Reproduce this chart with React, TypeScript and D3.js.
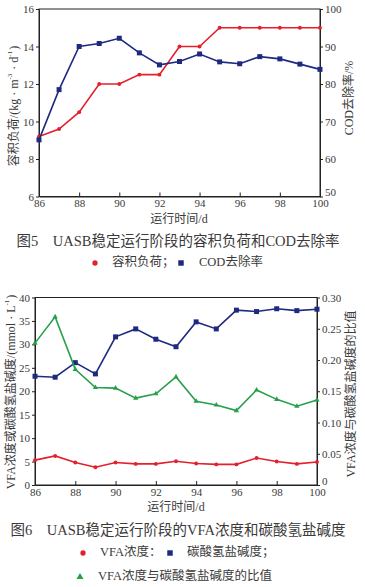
import * as React from 'react';
import * as d3 from 'd3';

const W = 365;
const H = 587;

const days = [86, 87, 88, 89, 90, 91, 92, 93, 94, 95, 96, 97, 98, 99, 100];
const xTicks = [86, 88, 90, 92, 94, 96, 98, 100];

// fig 5
const loadRate = [9.2, 9.6, 10.5, 12.0, 12.0, 12.5, 12.5, 14.0, 14.0, 15.0, 15.0, 15.0, 15.0, 15.0, 15.0];
const codRemoval = [65.1, 78.5, 90.0, 90.8, 92.2, 88.3, 85.1, 86.0, 88.0, 85.9, 85.4, 87.3, 86.7, 85.3, 83.9];
const loadTicks = [6, 8, 10, 12, 14, 16];
const codTicks = [50, 60, 70, 80, 90, 100];

// fig 6
const vfa = [5.3, 6.2, 4.8, 3.8, 4.8, 4.5, 4.5, 5.05, 4.6, 4.4, 4.4, 5.75, 5.0, 4.5, 4.9];
const alkalinity = [23.2, 23.0, 26.1, 23.7, 31.6, 33.3, 31.1, 29.5, 34.8, 33.3, 37.3, 37.0, 37.6, 37.2, 37.5];
const ratio = [0.227, 0.269, 0.185, 0.156, 0.155, 0.139, 0.146, 0.173, 0.134, 0.128, 0.119, 0.152, 0.137, 0.126, 0.136];
const concTicks = [0, 5, 10, 15, 20, 25, 30, 35, 40];
const ratioTicks = [0, 0.05, 0.1, 0.15, 0.2, 0.25, 0.3];

const RED = '#e3202c';
const BLUE = '#1e2a80';
const GREEN = '#26a04a';
const TXT = '#3a3a3a';
const NUM_FONT = '"Liberation Serif", "DejaVu Serif", serif';
const CJK_FONT = '"Liberation Serif", "Noto Sans CJK SC", serif';

type Series = { values: number[]; color: string; marker: 'circle' | 'square' | 'triangle'; axis: 'left' | 'right' };

function drawChart(svg, opts) {
  const { left, right, top, bottom, yL, yR, ticksL, ticksR, fmtR, series } = opts;
  const x = d3.scaleLinear().domain([86, 100]).range([left, right]);
  const yl = d3.scaleLinear().domain(yL).range([bottom, top]);
  const yr = d3.scaleLinear().domain(yR).range([bottom, top]);
  const g = svg.append('g');

  g.append('rect')
    .attr('x', left).attr('y', top)
    .attr('width', right - left).attr('height', bottom - top)
    .attr('fill', 'none').attr('stroke', '#222').attr('stroke-width', 1);

  // bottom ticks point inward
  const xa = g.append('g').attr('transform', `translate(0,${bottom})`)
    .call(d3.axisBottom(x).tickValues(xTicks).tickSizeInner(-4).tickSizeOuter(0).tickPadding(4).tickFormat(d3.format('d')));
  const la = g.append('g').attr('transform', `translate(${left},0)`)
    .call(d3.axisLeft(yl).tickValues(ticksL).tickSizeInner(3).tickSizeOuter(0).tickPadding(2).tickFormat(d3.format('d')));
  const ra = g.append('g').attr('transform', `translate(${right},0)`)
    .call(d3.axisRight(yr).tickValues(ticksR).tickSizeInner(3).tickSizeOuter(0).tickPadding(2).tickFormat(fmtR));
  [xa, la, ra].forEach(a => {
    a.select('.domain').attr('stroke', '#222');
    a.selectAll('line').attr('stroke', '#222');
    a.selectAll('text').attr('font-family', NUM_FONT).attr('font-size', 11).attr('fill', TXT);
  });
  xa.selectAll('text').attr('dy', '0.6em');
  // lowest right-axis label sits just above the corner, as in the print
  ra.selectAll('text').filter(d => d === yR[0]).attr('dy', '-0.05em');

  series.forEach((s: Series) => {
    const y = s.axis === 'left' ? yl : yr;
    const line = d3.line<number>().x((_, i) => x(days[i])).y(d => y(d));
    g.append('path').datum(s.values)
      .attr('d', line).attr('fill', 'none')
      .attr('stroke', s.color).attr('stroke-width', 1.6);
    const sym = s.marker === 'circle' ? d3.symbolCircle : s.marker === 'square' ? d3.symbolSquare : d3.symbolTriangle;
    const size = s.marker === 'square' ? 25 : 12;
    g.selectAll(null).data(s.values).enter().append('path')
      .attr('transform', (d, i) => `translate(${x(days[i])},${y(d)})`)
      .attr('d', d3.symbol().type(sym).size(size))
      .attr('fill', s.color);
  });
}

function vLabel(svg, cx, cy, parts) {
  const t = svg.append('text')
    .attr('transform', `translate(${cx},${cy}) rotate(-90)`)
    .attr('text-anchor', 'middle').attr('dominant-baseline', 'middle')
    .attr('font-family', CJK_FONT).attr('font-size', 12).attr('fill', TXT);
  parts.forEach(p => {
    if (p.sup) {
      t.append('tspan').attr('font-size', 7).attr('dy', -5).text(p.text);
      t.append('tspan').attr('dy', 5).text('\u200a');
    } else {
      t.append('tspan').text(p.text);
    }
  });
}

function text(svg, xx, yy, s, size, anchor = 'start') {
  svg.append('text').attr('x', xx).attr('y', yy)
    .attr('text-anchor', anchor).attr('dominant-baseline', 'middle')
    .attr('font-family', CJK_FONT).attr('font-size', size).attr('fill', TXT)
    .text(s);
}

function marker(svg, xx, yy, type, color) {
  const sym = type === 'circle' ? d3.symbolCircle : type === 'square' ? d3.symbolSquare : d3.symbolTriangle;
  svg.append('path').attr('transform', `translate(${xx},${yy})`)
    .attr('d', d3.symbol().type(sym).size(type === 'square' ? 30 : 22)).attr('fill', color);
}

class App extends React.Component {
  ref = React.createRef<SVGSVGElement>();

  componentDidMount() {
    const svg = d3.select(this.ref.current);
    svg.selectAll('*').remove();

    // ---- figure 5
    drawChart(svg, {
      left: 39, right: 320, top: 9, bottom: 196.5,
      yL: [6, 16], yR: [50, 100], ticksL: loadTicks, ticksR: codTicks,
      fmtR: d3.format('d'),
      series: [
        { values: loadRate, color: RED, marker: 'circle', axis: 'left' },
        { values: codRemoval, color: BLUE, marker: 'square', axis: 'right' },
      ],
    });
    vLabel(svg, 15, 106, [
      { text: '容积负荷/(kg · m' }, { text: '-3', sup: true },
      { text: ' · d' }, { text: '-1', sup: true }, { text: ')' },
    ]);
    vLabel(svg, 350, 98, [{ text: 'COD去除率/%' }]);
    text(svg, 179, 220, '运行时间/d', 12, 'middle');
    text(svg, 178, 243, '图5　UASB稳定运行阶段的容积负荷和COD去除率', 14.5, 'middle');
    marker(svg, 95, 263, 'circle', RED);
    text(svg, 112, 263, '容积负荷；', 12.5);
    marker(svg, 181, 263, 'square', BLUE);
    text(svg, 199, 263, 'COD去除率', 12.5);

    // ---- figure 6
    drawChart(svg, {
      left: 35, right: 317, top: 297.5, bottom: 485,
      yL: [0, 40], yR: [0, 0.3], ticksL: concTicks, ticksR: ratioTicks,
      fmtR: d => (d === 0 ? '0' : d3.format('.2f')(d)),
      series: [
        { values: vfa, color: RED, marker: 'circle', axis: 'left' },
        { values: alkalinity, color: BLUE, marker: 'square', axis: 'left' },
        { values: ratio, color: GREEN, marker: 'triangle', axis: 'right' },
      ],
    });
    vLabel(svg, 12, 392, [
      { text: 'VFA浓度或碳酸氢盐碱度/(mmol · L' }, { text: '-1', sup: true }, { text: ')' },
    ]);
    vLabel(svg, 352, 394, [{ text: 'VFA浓度与碳酸氢盐碱度的比值' }]);
    text(svg, 176, 508, '运行时间/d', 12, 'middle');
    text(svg, 178, 532, '图6　UASB稳定运行阶段的VFA浓度和碳酸氢盐碱度', 14.5, 'middle');
    marker(svg, 83, 553, 'circle', RED);
    text(svg, 100, 553, 'VFA浓度：', 12.5);
    marker(svg, 170, 553, 'square', BLUE);
    text(svg, 187, 553, '碳酸氢盐碱度；', 12.5);
    marker(svg, 80, 577, 'triangle', GREEN);
    text(svg, 98, 577, 'VFA浓度与碳酸氢盐碱度的比值', 12.5);
  }

  render() {
    return (
      <svg
        ref={this.ref}
        width={W}
        height={H}
        style={{ position: 'absolute', left: 0, top: 0, background: '#fff' }}
      />
    );
  }
}

export default App;
